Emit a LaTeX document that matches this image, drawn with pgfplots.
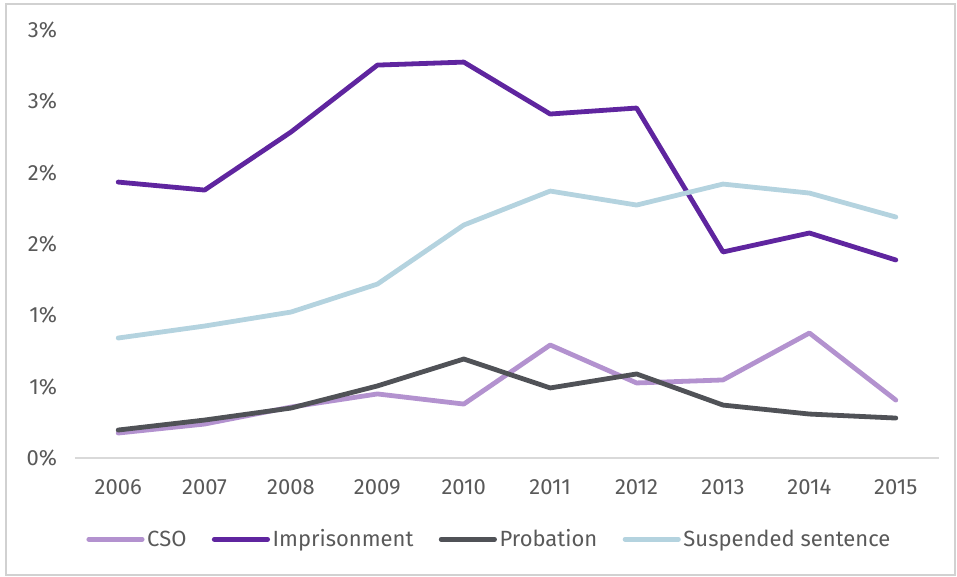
\documentclass[border=0pt]{standalone}
\usepackage{fontspec}
\setmainfont{Fira Sans}
\usepackage{pgfplots}
\pgfplotsset{compat=1.18}
\definecolor{txt}{HTML}{595959}
\definecolor{csoC}{HTML}{B392CF}
\definecolor{impC}{HTML}{5F259F}
\definecolor{probC}{HTML}{505257}
\definecolor{susC}{HTML}{B4D3DF}
\begin{document}
\begin{tikzpicture}
\path[use as bounding box] (-56.25pt,-89.25pt) rectangle (661.5pt,343.5pt);
\draw[color=black!18, line width=1.2pt] (-51.75pt,-87.75pt) rectangle (660pt,340.5pt);
\begin{axis}[
  at={(0,0)}, anchor=south west,
  scale only axis, width=648pt, height=321pt,
  xmin=2005.5, xmax=2015.5, ymin=0, ymax=3,
  xtick={2006,...,2015},
  xticklabel style={/pgf/number format/1000 sep={}, yshift=-13pt},
  ytick={0,0.5,1,1.5,2,2.5,3},
  yticklabels={0\%,1\%,1\%,2\%,2\%,3\%,3\%},
  yticklabel style={xshift=-10pt},
  axis x line*=bottom, axis y line*=left,
  x axis line style={draw=black!15, line width=1.2pt, -},
  y axis line style={draw=none},
  major tick length=0pt,
  tick label style={font=\fontsize{16.5}{19}\selectfont, text=txt},
  /pgf/number format/assume math mode=true,
  legend style={at={(0.48,-0.19)}, anchor=center, draw=none, fill=none,
    legend columns=4, font=\fontsize{16.5}{19}\selectfont, text=txt,
    /tikz/every even column/.append style={column sep=17pt}},
  legend image code/.code={\draw[#1, line cap=round] (0pt,0pt) -- (40pt,0pt);},
  every axis plot/.append style={line width=3.6pt, line cap=round, line join=round, no marks},
]
\addplot[color=csoC] coordinates {(2006,0.175)(2007,0.238)(2008,0.357)(2009,0.449)(2010,0.378)(2011,0.792)(2012,0.526)(2013,0.547)(2014,0.876)(2015,0.406)};
\addlegendentry{CSO}
\addplot[color=impC] coordinates {(2006,1.934)(2007,1.878)(2008,2.285)(2009,2.754)(2010,2.775)(2011,2.411)(2012,2.453)(2013,1.444)(2014,1.577)(2015,1.388)};
\addlegendentry{Imprisonment}
\addplot[color=probC] coordinates {(2006,0.196)(2007,0.266)(2008,0.350)(2009,0.505)(2010,0.694)(2011,0.491)(2012,0.589)(2013,0.371)(2014,0.308)(2015,0.280)};
\addlegendentry{Probation}
\addplot[color=susC] coordinates {(2006,0.841)(2007,0.925)(2008,1.023)(2009,1.219)(2010,1.633)(2011,1.871)(2012,1.773)(2013,1.920)(2014,1.857)(2015,1.689)};
\addlegendentry{Suspended sentence}
\end{axis}
\end{tikzpicture}
\end{document}
